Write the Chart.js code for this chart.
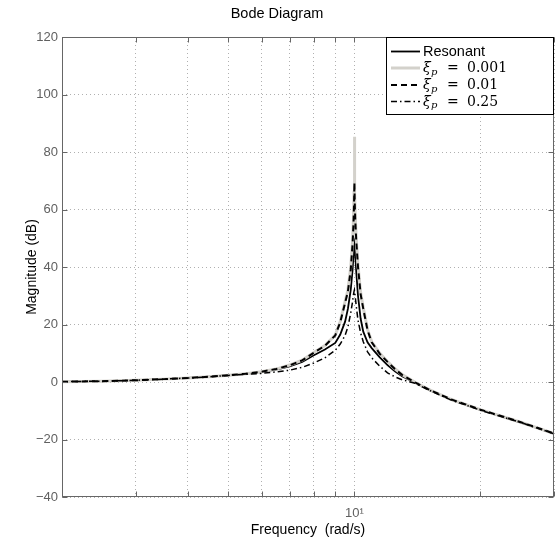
<!DOCTYPE html>
<html><head><meta charset="utf-8">
<script src="https://cdn.jsdelivr.net/npm/chart.js@4.4.1/dist/chart.umd.min.js"></script>
<style>html,body{margin:0;padding:0;background:#fff;} canvas{display:block;}</style>
</head><body>
<canvas id="c" width="558" height="545"></canvas>
<script>
// Frequency samples (rad/s)
const freq = [2, 2.5, 3, 3.5, 4, 4.5, 5, 5.5, 6, 6.5, 7, 7.5, 8, 8.5, 9, 9.25, 9.5, 9.65, 9.8, 9.9, 9.95, 9.98, 10, 10.02, 10.05, 10.1, 10.2, 10.35, 10.5, 10.75, 11, 11.5, 12, 12.5, 13, 14, 15, 17, 20, 25, 30];
// Magnitudes (dB)
const resonant = [0.1, 0.3, 0.6, 1.0, 1.4, 1.85, 2.35, 2.9, 3.5, 4.3, 5.4, 7.0, 9.3, 11.3, 13.6, 16.5, 21.0, 25.5, 32.0, 39.0, 44.0, 48.0, 50.0, 47.5, 44.0, 38.5, 30.0, 22.0, 17.5, 13.8, 11.8, 8.6, 5.9, 3.7, 2.0, -0.3, -2.6, -6.1, -9.7, -14.1, -18.0];
const xi001 = [0.1, 0.3, 0.6, 1.0, 1.4, 1.85, 2.35, 2.9, 3.6, 4.5, 5.9, 7.6, 10.3, 12.7, 16.3, 21.0, 28.0, 32.0, 40.0, 49.0, 57.0, 66.0, 85.3, 66.0, 57.0, 50.0, 40.5, 31.0, 25.8, 18.3, 14.0, 10.0, 7.1, 4.6, 2.6, -0.2, -2.5, -6.0, -9.6, -14.0, -17.9];
const xi01 = [0.1, 0.3, 0.6, 1.0, 1.4, 1.85, 2.35, 2.9, 3.6, 4.5, 5.8, 7.5, 10.2, 12.6, 16.2, 20.8, 27.5, 31.5, 39.0, 48.0, 55.0, 62.0, 69.4, 62.0, 56.0, 49.5, 40.0, 30.5, 25.5, 18.0, 13.8, 9.8, 7.0, 4.5, 2.5, -0.2, -2.5, -6.0, -9.6, -14.0, -17.9];
const xi025 = [0.1, 0.3, 0.6, 1.0, 1.4, 1.8, 2.3, 2.7, 3.0, 3.5, 4.1, 5.1, 6.6, 8.4, 11.0, 13.2, 16.2, 19.2, 24.0, 28.0, 30.5, 31.5, 32.0, 31.0, 29.5, 26.5, 21.5, 17.0, 14.0, 10.5, 8.4, 5.5, 3.2, 1.8, 0.8, -0.5, -2.7, -6.2, -9.8, -14.1, -18.0];

const seriesLabels = ['Resonant', '0.001', '0.01', '0.25'];
const xGridValues = [2, 3, 4, 5, 6, 7, 8, 9, 10, 20, 30];
const xTickLabels = {10: '10\u00b9'};
const yTickValues = [-40, -20, 0, 20, 40, 60, 80, 100, 120];

const FONT = '"Liberation Sans", Arial, Helvetica, sans-serif';
const SERIF = '"DejaVu Serif", "Liberation Serif", serif';
Chart.defaults.font.family = FONT;

const styles = [
  {borderColor: '#000000', borderWidth: 1.8, borderDash: []},
  {borderColor: '#d3d1cb', borderWidth: 3, borderDash: []},
  {borderColor: '#000000', borderWidth: 2, borderDash: [6, 4]},
  {borderColor: '#000000', borderWidth: 1.5, borderDash: [6, 3, 1.5, 3]}
];
const seriesValues = [resonant, xi001, xi01, xi025];
const toPts = arr => freq.map((f, i) => ({x: f, y: arr[i]}));

const datasets = seriesValues.map((arr, k) => ({
  label: seriesLabels[k],
  data: toPts(arr),
  borderColor: styles[k].borderColor,
  borderWidth: styles[k].borderWidth,
  borderDash: styles[k].borderDash,
  pointRadius: 0,
  tension: 0,
  fill: false,
  order: 4 - k
}));

const framePlugin = {
  id: 'frame',
  afterDatasetsDraw(chart) {
    const {ctx, chartArea: a, scales} = chart;
    ctx.save();
    ctx.strokeStyle = '#666';
    ctx.lineWidth = 1;
    ctx.setLineDash([]);
    const L = Math.round(a.left) + 0.5, R = Math.round(a.right) - 0.5;
    const T = Math.round(a.top) + 0.5, B = Math.round(a.bottom) - 0.5;
    ctx.strokeRect(L, T, R - L, B - T);
    ctx.beginPath();
    xGridValues.forEach(v => {
      const x = Math.round(scales.x.getPixelForValue(v)) + 0.5;
      ctx.moveTo(x, T); ctx.lineTo(x, T + 5);
      ctx.moveTo(x, B); ctx.lineTo(x, B - 5);
    });
    yTickValues.forEach(v => {
      const y = Math.round(scales.y.getPixelForValue(v)) + 0.5;
      ctx.moveTo(L, y); ctx.lineTo(L + 5, y);
      ctx.moveTo(R, y); ctx.lineTo(R - 5, y);
    });
    ctx.stroke();
    ctx.restore();
  },
  afterDraw(chart) {
    const {ctx, chartArea: a} = chart;
    ctx.save();
    const x0 = 386.5, y0 = Math.round(a.top) + 0.5, x1 = Math.round(a.right) - 0.5, y1 = 114.5;
    ctx.fillStyle = '#fff';
    ctx.fillRect(x0, y0, x1 - x0, y1 - y0);
    ctx.strokeStyle = '#000';
    ctx.lineWidth = 1;
    ctx.setLineDash([]);
    ctx.strokeRect(x0, y0, x1 - x0, y1 - y0);
    const rows = [51.5, 68, 85, 101.5];
    rows.forEach((ry, k) => {
      ctx.beginPath();
      ctx.strokeStyle = styles[k].borderColor;
      ctx.lineWidth = styles[k].borderWidth;
      ctx.setLineDash(styles[k].borderDash);
      ctx.moveTo(391, ry); ctx.lineTo(420, ry);
      ctx.stroke();
      ctx.setLineDash([]);
      ctx.fillStyle = '#000';
      ctx.textAlign = 'left';
      if (k === 0) {
        ctx.font = '14.5px ' + FONT;
        ctx.textBaseline = 'middle';
        ctx.fillText(seriesLabels[0], 423, ry + 0.5);
      } else {
        ctx.textBaseline = 'alphabetic';
        const base = ry + 4;
        ctx.font = 'italic 14px ' + SERIF;
        ctx.fillText('\u03be', 423, base);
        ctx.font = 'italic 10px ' + SERIF;
        ctx.fillText('p', 431, base + 2.5);
        ctx.font = '14px ' + SERIF;
        ctx.fillText('=', 447, base);
        ctx.fillText(seriesLabels[k], 467, base);
      }
    });
    ctx.restore();
  }
};

new Chart(document.getElementById('c'), {
  type: 'line',
  data: {datasets},
  options: {
    responsive: false,
    animation: false,
    devicePixelRatio: 1,
    layout: {padding: {left: 0, right: 4, top: 0, bottom: 0}},
    plugins: {
      legend: {display: false},
      tooltip: {enabled: false},
      title: {
        display: true,
        text: 'Bode Diagram',
        color: '#000',
        font: {size: 14.5, weight: 'normal', family: FONT},
        padding: {top: 5, bottom: 14.6}
      }
    },
    scales: {
      x: {
        type: 'logarithmic',
        min: 2,
        max: 30,
        afterBuildTicks: s => { s.ticks = xGridValues.map(v => ({value: v})); },
        afterFit: s => { s.height = 48; s.paddingLeft = 0; s.paddingRight = 0; },
        ticks: {
          autoSkip: false,
          maxRotation: 0,
          padding: 9,
          color: '#606060',
          font: {size: 13},
          callback: v => xTickLabels[v] || ''
        },
        grid: {color: '#b0b0b0', lineWidth: 1, drawTicks: false},
        border: {display: false, dash: [1, 3]},
        title: {
          display: true,
          text: 'Frequency  (rad/s)',
          color: '#000',
          font: {size: 14},
          padding: {top: 0, bottom: 6}
        }
      },
      y: {
        type: 'linear',
        min: -40,
        max: 120,
        afterBuildTicks: s => { s.ticks = yTickValues.map(v => ({value: v})); },
        afterFit: s => { s.width = 62; },
        ticks: {
          padding: 4,
          color: '#606060',
          font: {size: 13},
          callback: v => (v < 0 ? '\u2212' + Math.abs(v) : String(v))
        },
        grid: {color: '#b0b0b0', lineWidth: 1, drawTicks: false},
        border: {display: false, dash: [1, 3]},
        title: {
          display: true,
          text: 'Magnitude (dB)',
          color: '#000',
          font: {size: 14},
          padding: {top: 24, bottom: 0}
        }
      }
    }
  },
  plugins: [framePlugin]
});
</script>
</body></html>
